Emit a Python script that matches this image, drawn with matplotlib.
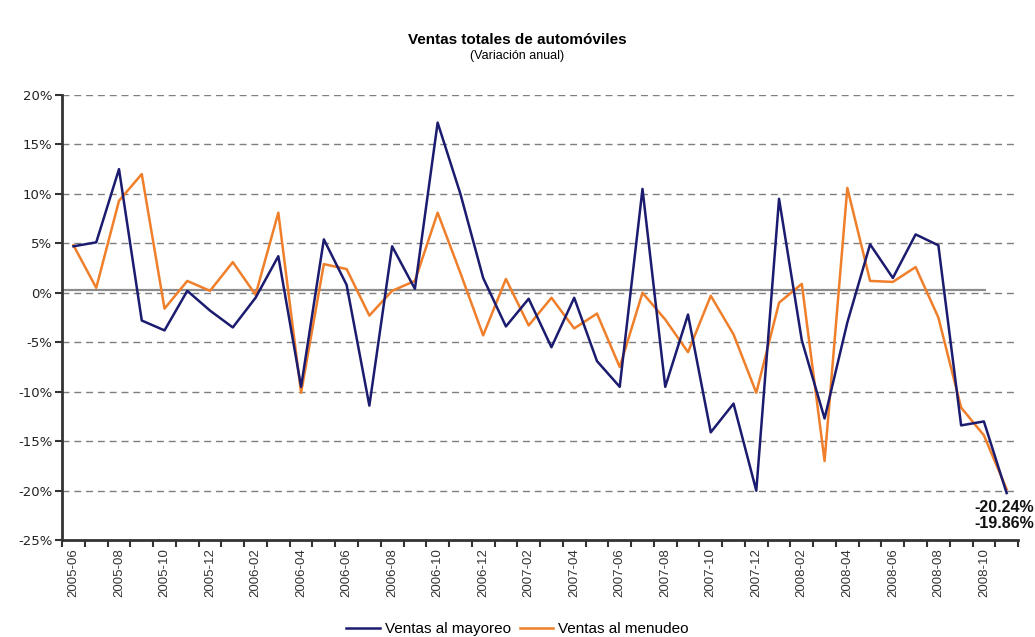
import matplotlib
matplotlib.use("Agg")
import matplotlib.pyplot as plt
import numpy as np

plt.rcParams['font.family'] = ['Liberation Sans', 'DejaVu Sans']

months = [f"{y}-{m:02d}" for y, m in
          [(2005, m) for m in range(6, 13)] + [(2006, m) for m in range(1, 13)] +
          [(2007, m) for m in range(1, 13)] + [(2008, m) for m in range(1, 12)]]

mayoreo = [4.7, 5.1, 12.5, -2.8, -3.8, 0.2, -1.8, -3.5, -0.5, 3.7,
           -9.5, 5.4, 0.8, -11.4, 4.7, 0.4, 17.2, 10.0, 1.5, -3.4,
           -0.6, -5.5, -0.5, -6.9, -9.5, 10.5, -9.5, -2.2, -14.1, -11.2,
           -20.0, 9.5, -4.8, -12.7, -3.0, 4.9, 1.5, 5.9, 4.8, -13.4,
           -13.0, -20.24]
menudeo = [4.8, 0.5, 9.3, 12.0, -1.6, 1.2, 0.2, 3.1, -0.2, 8.1,
           -10.1, 2.9, 2.4, -2.3, 0.2, 1.2, 8.1, 2.0, -4.3, 1.4,
           -3.3, -0.5, -3.6, -2.1, -7.5, 0.0, -2.7, -6.0, -0.3, -4.2,
           -10.1, -1.0, 0.9, -17.0, 10.6, 1.2, 1.1, 2.6, -2.5, -11.6,
           -14.4, -19.86]
last_labels = ["-20.24%", "-19.86%"]

fig = plt.figure(figsize=(10.35, 6.37), dpi=100)
ax = fig.add_axes([0.06, 0.152, 0.9236, 0.699])

x = np.arange(len(months))
ax.set_xlim(-0.5, len(months) - 0.5)
ax.set_ylim(-25, 20)

for v in range(-20, 21, 5):
    ax.axhline(v, color='#7f7f7f', lw=1.0, ls=(0, (5, 3.5)), zorder=1)
ax.hlines(0.3, -0.5, 40.1, color='#8c8c8c', lw=1.6, zorder=1.5)

ax.plot(x, menudeo, color='#ef7f2a', lw=1.8, zorder=3, label='Ventas al menudeo')
ax.plot(x, mayoreo, color='#1b1b6f', lw=1.8, zorder=4, label='Ventas al mayoreo')

ax.set_yticks(range(-25, 21, 5))
ax.set_yticklabels([f"{v}%" for v in range(-25, 21, 5)], fontsize=9.5,
                   color='#222222', family='DejaVu Sans')
ax.set_xticks(x[::2])
ax.set_xticklabels(months[::2], rotation=90, fontsize=9.5, color='#333333')
ax.set_xticks(np.arange(-0.5, len(months), 1), minor=True)
ax.tick_params(axis='x', which='major', length=0, pad=6)
ax.tick_params(axis='x', which='minor', length=5, width=1.5, color='#333333', direction='out')
ax.tick_params(axis='y', length=5, width=1.5, color='#333333', direction='out', pad=2)

for s in ['top', 'right']:
    ax.spines[s].set_visible(False)
for s in ['left', 'bottom']:
    ax.spines[s].set_color('#333333')
    ax.spines[s].set_linewidth(2)

fig.text(0.999, 1 - 507 / 637, last_labels[0], fontsize=11.5, fontweight='bold',
         ha='right', va='center', color='#111111')
fig.text(0.999, 1 - 524 / 637, last_labels[1], fontsize=11.5, fontweight='bold',
         ha='right', va='center', color='#111111')

fig.text(0.5, 0.937, "Ventas totales de automóviles", ha='center', va='center',
         fontsize=11, fontweight='bold')
fig.text(0.5, 0.912, "(Variación anual)", ha='center', va='center', fontsize=9)

handles, labels = ax.get_legend_handles_labels()
fig.legend(handles[::-1], labels[::-1], loc='center', bbox_to_anchor=(0.5, 0.012),
           ncol=2, frameon=False, fontsize=11, handlelength=2.2, handletextpad=0.3,
           columnspacing=0.6)

fig.savefig("out.png", dpi=100)
